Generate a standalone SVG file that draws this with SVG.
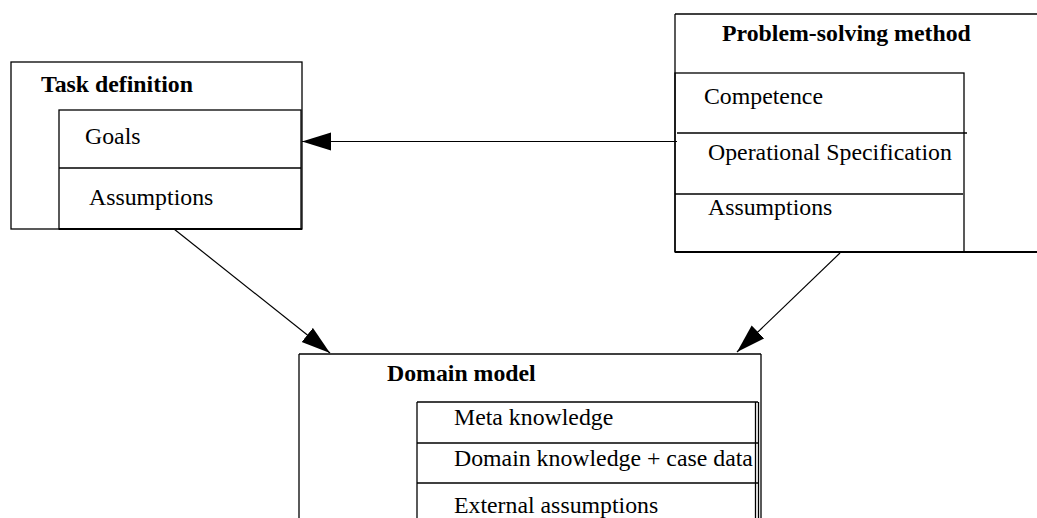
<svg xmlns="http://www.w3.org/2000/svg" width="1037" height="518" viewBox="0 0 1037 518">
<style>
.box{fill:none;stroke:#000;stroke-width:1.3}
.ln{stroke:#000;stroke-width:1.3;fill:none}
.t{font-family:"Liberation Serif","Times New Roman",serif;font-size:23.8px;fill:#000}
.b{font-weight:bold}
.c{stroke:#000;stroke-width:1.2;fill:none}
</style>
<defs>
<marker id="ah" markerUnits="userSpaceOnUse" markerWidth="30" markerHeight="20" refX="29" refY="9" orient="auto">
<path d="M0,0 L29,9 L0,18 Z" fill="#000"/>
</marker>
</defs>
<rect width="1037" height="518" fill="#fff"/>
<g id="task-definition">
<rect class="box" x="11" y="62" width="291" height="167"/>
<rect class="box" x="59" y="110" width="242" height="119"/>
<line class="ln" x1="59" y1="168" x2="301" y2="168"/>
<line x1="59" y1="229" x2="302" y2="229" stroke="#000" stroke-width="2.2"/>
<text class="t b" x="41" y="92">Task definition</text>
<text class="t" x="85" y="144">Goals</text>
<text class="t" x="89" y="205">Assumptions</text>
</g>
<g id="problem-solving-method">
<line class="ln" x1="675" y1="14" x2="1037" y2="14"/>
<line class="ln" x1="675" y1="14" x2="675" y2="252"/>
<line x1="675" y1="252" x2="1037" y2="252" stroke="#000" stroke-width="2"/>
<rect class="box" x="675" y="73" width="289" height="179"/>
<line class="ln" x1="677" y1="133" x2="967" y2="133"/>
<line class="ln" x1="675" y1="194" x2="963" y2="194"/>
<text class="t b" x="722" y="41">Problem-solving method</text>
<text class="t" x="704" y="104">Competence</text>
<text class="t" x="708" y="160">Operational Specification</text>
<text class="t" x="708" y="215">Assumptions</text>
</g>
<g id="domain-model">
<line class="ln" x1="299" y1="354" x2="761" y2="354"/>
<line class="ln" x1="299" y1="354" x2="299" y2="518"/>
<line class="ln" x1="761" y1="354" x2="761" y2="518"/>
<line class="ln" x1="417" y1="402" x2="758" y2="402"/>
<line class="ln" x1="417" y1="402" x2="417" y2="518"/>
<line class="ln" x1="755.5" y1="402" x2="755.5" y2="518"/>
<line class="ln" x1="758.5" y1="402" x2="758.5" y2="518"/>
<line class="ln" x1="417" y1="443" x2="758" y2="443"/>
<line class="ln" x1="417" y1="483" x2="758" y2="483"/>
<text class="t b" x="387" y="381">Domain model</text>
<text class="t" x="454" y="425">Meta knowledge</text>
<text class="t" x="454" y="466">Domain knowledge + case data</text>
<text class="t" x="454" y="513">External assumptions</text>
</g>
<g id="connectors">
<line class="c" x1="677" y1="141.5" x2="302" y2="141.5" marker-end="url(#ah)"/>
<line class="c" x1="174" y1="229" x2="330" y2="353" marker-end="url(#ah)"/>
<line class="c" x1="840" y1="253" x2="737" y2="352" marker-end="url(#ah)"/>
</g>
</svg>
